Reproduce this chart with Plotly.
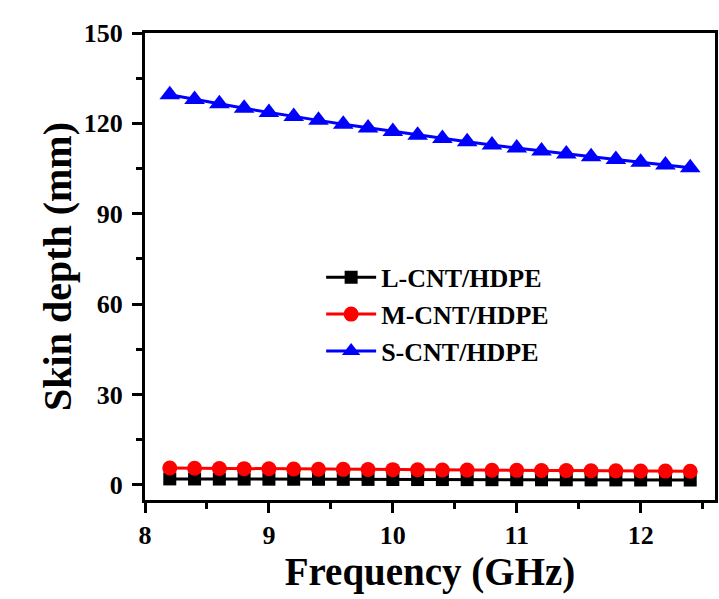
import plotly.graph_objects as go

freq = [8.2, 8.4, 8.6, 8.8, 9.0, 9.2, 9.4, 9.6, 9.8, 10.0, 10.2,
        10.4, 10.6, 10.8, 11.0, 11.2, 11.4, 11.6, 11.8, 12.0, 12.2, 12.4]
l_cnt = [2.0, 1.98, 1.95, 1.93, 1.91, 1.89, 1.87, 1.85, 1.83, 1.81, 1.79,
         1.78, 1.76, 1.74, 1.73, 1.71, 1.70, 1.68, 1.67, 1.65, 1.64, 1.63]
m_cnt = [5.6, 5.53, 5.47, 5.41, 5.35, 5.29, 5.23, 5.18, 5.12, 5.07, 5.02,
         4.97, 4.93, 4.88, 4.84, 4.79, 4.75, 4.71, 4.67, 4.63, 4.59, 4.55]
s_cnt = [129.5, 127.9, 126.5, 125.0, 123.6, 122.3, 121.0, 119.7, 118.5, 117.3, 116.1,
         115.0, 113.9, 112.8, 111.8, 110.8, 109.8, 108.9, 108.0, 107.1, 106.2, 105.3]

names = ["L-CNT/HDPE", "M-CNT/HDPE", "S-CNT/HDPE"]
x_ticks = [8, 9, 10, 11, 12]
y_ticks = [0, 30, 60, 90, 120, 150]

FONT = "Liberation Serif"
TICK_FONT = dict(family=FONT, size=26, color="black")

fig = go.Figure()
fig.add_trace(go.Scatter(x=freq, y=l_cnt, name="<b>%s</b>" % names[0], mode="lines+markers",
                         line=dict(color="black", width=3),
                         marker=dict(symbol="square", size=13, color="black")))
fig.add_trace(go.Scatter(x=freq, y=m_cnt, name="<b>%s</b>" % names[1], mode="lines+markers",
                         line=dict(color="red", width=3),
                         marker=dict(symbol="circle", size=15, color="red")))
fig.add_trace(go.Scatter(x=freq, y=s_cnt, name="<b>%s</b>" % names[2], mode="lines+markers",
                         line=dict(color="blue", width=3),
                         marker=dict(symbol="triangle-up", size=18, color="blue")))

axis_common = dict(
    showline=True, linecolor="black", linewidth=3, mirror=True,
    ticks="outside", ticklen=10, tickwidth=2.5, tickcolor="black",
    showgrid=False, zeroline=False, automargin=False,
)

fig.update_layout(
    xaxis=dict(
        range=[8, 12.6], tickvals=x_ticks, ticktext=["<b>%d</b>" % v for v in x_ticks],
        tickfont=TICK_FONT,
        minor=dict(ticks="outside", ticklen=6, tickwidth=2.5, tickcolor="black", dtick=0.5),
        title=dict(text="<b>Frequency (GHz)</b>", font=dict(family=FONT, size=39, color="black"),
                   standoff=2),
        **axis_common,
    ),
    yaxis=dict(
        range=[-5, 150], tickvals=y_ticks, ticktext=["<b>%d</b>" % v for v in y_ticks],
        tickfont=TICK_FONT,
        minor=dict(ticks="outside", ticklen=6, tickwidth=2.5, tickcolor="black", dtick=15),
        title=dict(text="<b>Skin depth (mm)</b>", font=dict(family=FONT, size=40, color="black"),
                   standoff=0),
        ticklabelstandoff=4,
        **axis_common,
    ),
)

fig.update_layout(
    width=719, height=599,
    font=dict(family=FONT, size=26, color="black"),
    margin=dict(l=145, r=4, t=33, b=99),
    paper_bgcolor="white", plot_bgcolor="white",
    showlegend=True,
    legend=dict(x=0.309, y=0.527, xanchor="left", yanchor="top",
                bgcolor="rgba(0,0,0,0)",
                font=dict(family=FONT, size=26, color="black"),
                tracegroupgap=0, itemwidth=50),
)

fig.write_html("out.html", config={"displayModeBar": False},
               post_script="document.body.style.margin='0';document.body.style.overflow='hidden';")
